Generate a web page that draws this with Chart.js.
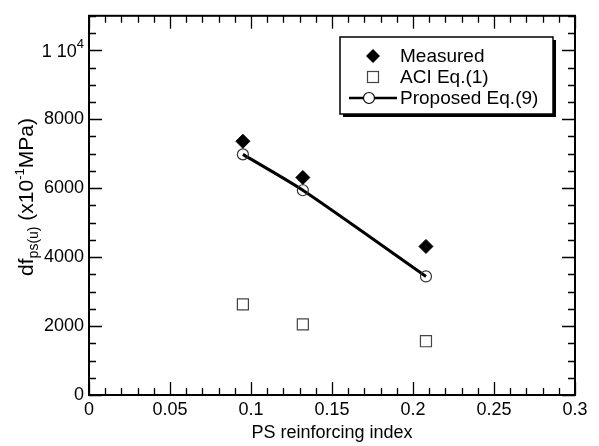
<!DOCTYPE html>
<html>
<head>
<meta charset="utf-8">
<script src="https://cdn.jsdelivr.net/npm/chart.js@4.4.1/dist/chart.umd.min.js"></script>
<style>
  html, body { margin: 0; padding: 0; background: #fff; }
  #chart { display: block; }
</style>
</head>
<body>
<canvas id="chart" width="599" height="446"></canvas>
<script>
// PS reinforcing index of the three specimens
const psIndex = [0.095, 0.132, 0.208];
// stress increase values, x10^-1 MPa
const measured = [7360, 6310, 4310];
const aciEq1 = [2630, 2050, 1560];
const proposedEq9 = [6980, 5940, 3440];

const seriesNames = ['Measured', 'ACI Eq.(1)', 'Proposed Eq.(9)'];
const xTickValues = [0, 0.05, 0.1, 0.15, 0.2, 0.25, 0.3];
const xTickLabels = ['0', '0.05', '0.1', '0.15', '0.2', '0.25', '0.3'];
const yTickValues = [0, 2000, 4000, 6000, 8000, 10000];
// last one is drawn by hand as "1 10^4"
const yTickLabels = ['0', '2000', '4000', '6000', '8000', ''];

const FONT = '"Liberation Sans", Arial, Helvetica, sans-serif';

function toPoints(ys) {
  return psIndex.map((x, i) => ({ x: x, y: ys[i] }));
}

// inward tick marks on all four sides + frame
const frameTicks = {
  id: 'frameTicks',
  afterDraw(chart) {
    const ctx = chart.ctx;
    const a = chart.chartArea;
    const xs = chart.scales.x;
    const ys = chart.scales.y;
    ctx.save();
    ctx.strokeStyle = '#000';
    ctx.lineWidth = 1.3;
    ctx.beginPath();
    // x ticks every 0.01, major every 0.05
    for (let i = 0; i <= 30; i++) {
      const px = Math.round(xs.getPixelForValue(i / 100)) + 0.5;
      const len = i % 5 === 0 ? 13 : 7;
      ctx.moveTo(px, a.bottom); ctx.lineTo(px, a.bottom - len);
      ctx.moveTo(px, a.top); ctx.lineTo(px, a.top + len);
    }
    // y ticks every 500, major every 2000
    for (let v = 0; v <= 11000; v += 500) {
      const py = Math.round(ys.getPixelForValue(v)) + 0.5;
      const len = v % 2000 === 0 ? 13 : 7;
      ctx.moveTo(a.left, py); ctx.lineTo(a.left + len, py);
      ctx.moveTo(a.right, py); ctx.lineTo(a.right - len, py);
    }
    ctx.stroke();
    ctx.lineWidth = 2;
    ctx.strokeRect(a.left, a.top, a.right - a.left, a.bottom - a.top);

    // "1 10^4" tick label
    const y4 = ys.getPixelForValue(10000);
    ctx.fillStyle = '#000';
    ctx.textBaseline = 'alphabetic';
    ctx.textAlign = 'right';
    ctx.font = '13px ' + FONT;
    const supW = ctx.measureText('4').width;
    ctx.fillText('4', a.left - 5, y4 - 2);
    ctx.font = '18px ' + FONT;
    ctx.fillText('1 10', a.left - 5 - supW, y4 + 6.5);
    ctx.restore();
  }
};

// axis titles with sub/superscripts
const axisTitles = {
  id: 'axisTitles',
  afterDraw(chart) {
    const ctx = chart.ctx;
    const a = chart.chartArea;
    ctx.save();
    ctx.fillStyle = '#000';
    ctx.font = '18px ' + FONT;
    ctx.textAlign = 'center';
    ctx.textBaseline = 'middle';
    ctx.fillText('PS reinforcing index', (a.left + a.right) / 2, 433);

    // y title, rotated
    const parts = [
      { t: 'df', size: 21, dy: 0 },
      { t: 'ps(u)', size: 14, dy: 5 },
      { t: ' (x10', size: 21, dy: 0 },
      { t: '-1', size: 13, dy: -9 },
      { t: 'MPa)', size: 21, dy: 0 }
    ];
    let total = 0;
    parts.forEach(p => {
      ctx.font = p.size + 'px ' + FONT;
      p.w = ctx.measureText(p.t).width;
      total += p.w;
    });
    ctx.translate(33, 197);
    ctx.rotate(-Math.PI / 2);
    ctx.textAlign = 'left';
    ctx.textBaseline = 'alphabetic';
    let cx = -total / 2;
    parts.forEach(p => {
      ctx.font = p.size + 'px ' + FONT;
      ctx.fillText(p.t, cx, p.dy);
      cx += p.w;
    });
    ctx.restore();
  }
};

// boxed legend with drop shadow
const boxLegend = {
  id: 'boxLegend',
  afterDraw(chart) {
    const ctx = chart.ctx;
    const l = 340, t = 37, r = 553, b = 114;
    ctx.save();
    ctx.fillStyle = '#000';
    ctx.fillRect(l + 3, t + 3, r - l, b - t);
    ctx.fillStyle = '#fff';
    ctx.fillRect(l, t, r - l, b - t);
    ctx.strokeStyle = '#000';
    ctx.lineWidth = 1.5;
    ctx.strokeRect(l, t, r - l, b - t);

    const rows = [56, 77, 98];
    const mx = 373;
    // diamond
    ctx.fillStyle = '#000';
    ctx.beginPath();
    ctx.moveTo(mx, rows[0] - 7); ctx.lineTo(mx + 7, rows[0]);
    ctx.lineTo(mx, rows[0] + 7); ctx.lineTo(mx - 7, rows[0]);
    ctx.closePath(); ctx.fill();
    // open square
    ctx.strokeStyle = '#444';
    ctx.lineWidth = 1.2;
    ctx.strokeRect(mx - 5.5, rows[1] - 5.5, 11, 11);
    // line with open circle
    ctx.strokeStyle = '#000';
    ctx.lineWidth = 2.5;
    ctx.beginPath();
    ctx.moveTo(349, rows[2]); ctx.lineTo(397, rows[2]);
    ctx.stroke();
    ctx.fillStyle = '#fff';
    ctx.lineWidth = 1.2;
    ctx.beginPath();
    ctx.arc(369, rows[2], 5.5, 0, Math.PI * 2);
    ctx.fill(); ctx.stroke();

    ctx.fillStyle = '#000';
    ctx.font = '19px ' + FONT;
    ctx.textAlign = 'left';
    ctx.textBaseline = 'middle';
    seriesNames.forEach((n, i) => ctx.fillText(n, 400, rows[i] + 1));
    ctx.restore();
  }
};

const ctx = document.getElementById('chart').getContext('2d');
new Chart(ctx, {
  type: 'scatter',
  data: {
    datasets: [
      {
        label: seriesNames[0],
        data: toPoints(measured),
        pointStyle: 'rectRot',
        pointRadius: 7,
        backgroundColor: '#000',
        borderColor: '#000',
        borderWidth: 1
      },
      {
        label: seriesNames[1],
        data: toPoints(aciEq1),
        pointStyle: 'rect',
        pointRadius: 7.8,
        backgroundColor: '#fff',
        borderColor: '#444',
        borderWidth: 1.2
      },
      {
        label: seriesNames[2],
        data: toPoints(proposedEq9),
        showLine: true,
        tension: 0.25,
        borderColor: '#000',
        borderWidth: 3,
        pointStyle: 'circle',
        pointRadius: 5.5,
        pointBackgroundColor: 'rgba(255,255,255,0)',
        pointBorderColor: '#333',
        pointBorderWidth: 1.2
      }
    ]
  },
  options: {
    responsive: false,
    animation: false,
    devicePixelRatio: 1,
    layout: { padding: { top: 8, right: 24, left: 0, bottom: 0 } },
    plugins: {
      legend: { display: false },
      tooltip: { enabled: false }
    },
    scales: {
      x: {
        type: 'linear',
        min: 0,
        max: 0.3,
        grid: { display: false, drawTicks: false },
        border: { display: false },
        afterBuildTicks: (scale) => {
          scale.ticks = xTickValues.map(v => ({ value: v }));
        },
        ticks: {
          autoSkip: false,
          padding: 4,
          color: '#000',
          font: { family: FONT, size: 18 },
          maxRotation: 0,
          callback: (v, i) => xTickLabels[i]
        },
        afterFit: (scale) => { scale.height = 51; }
      },
      y: {
        type: 'linear',
        min: 0,
        max: 11000,
        grid: { display: false, drawTicks: false },
        border: { display: false },
        afterBuildTicks: (scale) => {
          scale.ticks = yTickValues.map(v => ({ value: v }));
        },
        ticks: {
          autoSkip: false,
          padding: 5,
          color: '#000',
          font: { family: FONT, size: 18 },
          callback: (v, i) => yTickLabels[i]
        },
        afterFit: (scale) => { scale.width = 89; }
      }
    }
  },
  plugins: [frameTicks, axisTitles, boxLegend]
});
</script>
</body>
</html>
